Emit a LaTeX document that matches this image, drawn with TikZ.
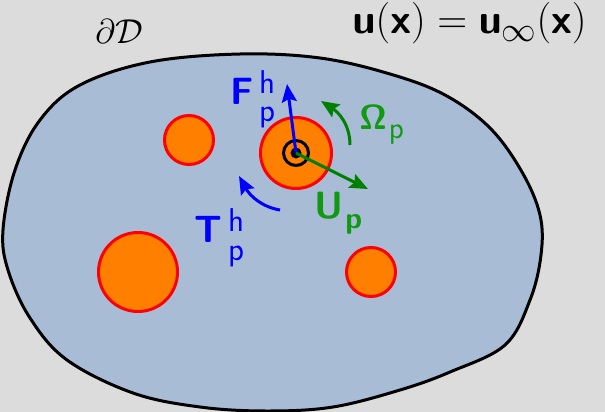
\documentclass[tikz,border=0pt]{standalone}
\usepackage{amsmath}
\usepackage{xcolor}
\usepackage{tikz}
\usetikzlibrary{arrows.meta}

\DeclareMathAlphabet{\mathbsf}{OT1}{cmss}{bx}{n}

% sans script text at a fixed size
\newcommand{\scr}[1]{{\fontsize{15}{15}\selectfont\textsf{#1}}}
\newcommand{\scrbig}[1]{{\fontsize{16.5}{17}\selectfont\textsf{#1}}}
% bold base letter with stacked sans scripts
\newcommand{\labhp}[3]{\textsf{\bfseries #1}\kern3pt\rlap{\raisebox{5.5pt}{\scrbig{#2}}}\raisebox{-9pt}{\scrbig{#3}}}

\definecolor{bgGray}{HTML}{DCDCDC}
\definecolor{domainBlue}{HTML}{A8BCD6}
\definecolor{partOrange}{HTML}{FF8000}
\definecolor{velGreen}{HTML}{008000}
\definecolor{labGreen}{HTML}{119911}

\begin{document}
\begin{tikzpicture}[
    x=0.5pt, y=-0.5pt,
    every node/.style={font=\fontsize{19}{23}\selectfont, inner sep=0pt},
    particle/.style={circle, draw=red, fill=partOrange, line width=1.5pt, minimum size=#1},
    arr/.style={-{Stealth[length=9pt, width=7.5pt, inset=1.5pt]}, line width=1.5pt},
    lab/.style={anchor=base west},
]
    \fill[bgGray] (0,0) rectangle (605,412);
    \useasboundingbox (0,0) rectangle (605,412);

    % fluid domain
    \draw[line width=1.5pt, fill=domainBlue] plot[smooth cycle, tension=0.6] coordinates {
        (240,54) (320,58) (390,74) (445,95) (490,128) (522,172) (540,215)
        (541,255) (530,300) (505,345) (450,372) (400,390) (333,407)
        (267,411) (200,407) (133,393) (67,360) (30,318) (8,270) (3,230)
        (15,170) (40,120) (80,85) (150,62)};

    % particles
    \node[particle=24.5pt] (p1) at (189,140) {};
    \node[particle=35.5pt] (p0) at (296,153) {};
    \node[particle=39.5pt] (p2) at (138,272) {};
    \node[particle=24.5pt] (p3) at (371,272) {};

    % body frame marker
    \node[circle, draw, line width=1.5pt, minimum size=12.5pt] (ring) at (p0.center) {};
    \node[circle, fill, minimum size=5.5pt] (dot) at (p0.center) {};

    % arrow ends
    \coordinate (Ftip) at (287,84);
    \coordinate (Utip) at (368,189);
    \coordinate (Om0) at (350,145);
    \coordinate (Om1) at (321,101);
    \coordinate (T0) at (280,210);
    \coordinate (T1) at (239,176);

    \draw[arr, blue] (p0.center) -- (Ftip);
    \draw[arr, velGreen] (p0.center) -- (Utip);
    \draw[arr, velGreen] (Om0) .. controls (350,124) and (338,112) .. (Om1);
    \draw[arr, blue] (T0) .. controls (262,207) and (250,196) .. (T1);

    % labels
    \node[lab, blue] (Flab) at (230,104) {\labhp{F}{h}{p}};
    \node[lab, blue] (Tlab) at (194,242) {\labhp{T}{h}{p}};
    \node[lab, labGreen] (Olab) at (359,129) {$\mathbsf{\Omega}$\kern1pt\raisebox{-4.5pt}{\scr{p}}};
    \node[lab, labGreen] (Ulab) at (314,218) {\textsf{\bfseries U}\kern1pt\raisebox{-5pt}{\scr{\bfseries p}}};
    \node[lab, font=\fontsize{18}{22}\selectfont] (dD) at (95,43) {$\partial\mathcal{D}$};
    \node[lab, font=\fontsize{20}{24}\selectfont] (bc) at (352,33)
        {$\mathbsf{u}(\mathbsf{x}) = \mathbsf{u}\raisebox{-4pt}{\fontsize{16.5}{17}\selectfont$\infty$}(\mathbsf{x})$};
\end{tikzpicture}
\end{document}
